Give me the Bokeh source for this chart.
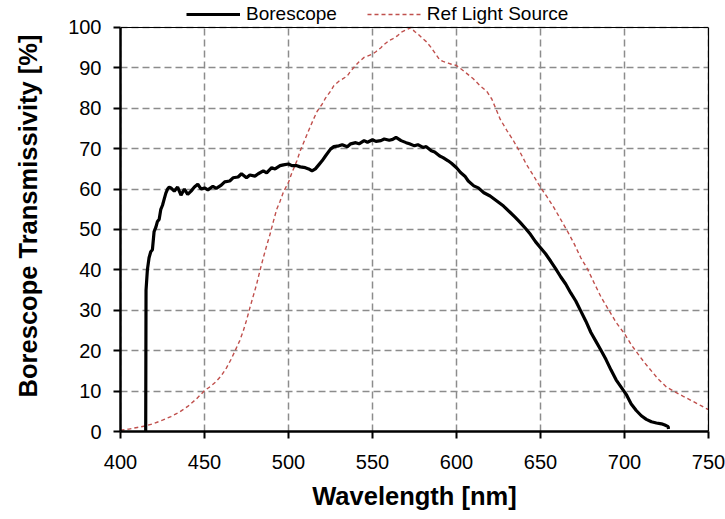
from bokeh.plotting import figure
from bokeh.models import Legend, LegendItem, FixedTicker, Range1d, Span, LinearAxis
from bokeh.embed import file_html
from bokeh.resources import INLINE

# Borescope transmissivity [%] vs wavelength [nm]
bore_wl = [415, 415.2, 416, 417, 418, 419, 420, 421, 422, 423, 424, 425, 426, 427, 428, 429,
           430, 432, 434, 436, 438, 440, 442, 444, 446, 448, 450, 452, 455, 457, 460, 462,
           465, 467, 470, 472, 475, 477, 480, 482, 485, 487, 490, 492, 495, 497, 500, 502,
           505, 507, 510, 512, 514, 516, 518, 520, 522, 525, 527, 530, 532, 535, 537, 540,
           542, 545, 547, 550, 552, 555, 557, 560, 562, 564, 567, 570, 572, 575, 577, 580,
           582, 585, 587, 590, 592, 595, 597, 600, 602.4, 605, 607, 610.3, 613, 616.3, 620,
           624.2, 628, 632, 635, 638, 641, 644, 647, 650, 653, 656, 659, 662, 665, 668, 671,
           674, 677, 680, 683, 686, 689, 692, 695, 698, 701, 704, 707, 710, 713, 716, 719,
           722, 724, 726, 726.2]
bore_t = [0, 35, 40, 43, 44.5, 45, 49.5, 50.5, 52, 52.5, 55, 56, 57.5, 59, 60, 60.5,
          60.3, 59.5, 60.5, 58.5, 60, 58.7, 59.5, 60.5, 61.2, 60, 60.3, 59.8, 60.7, 60.2, 61, 61.8,
          62, 62.8, 63, 63.8, 62.8, 63.5, 63.2, 63.8, 64.5, 64, 65.3, 65, 65.8, 66, 66.2, 65.8,
          65.8, 65.5, 65.3, 65, 64.5, 65, 66, 67, 68.2, 69.9, 70.5, 70.7, 71, 70.5, 71.2, 71.5,
          71.2, 72, 71.6, 72.2, 71.8, 72, 72.4, 72.1, 72.3, 72.8, 72, 71.5, 71.2, 70.7, 71, 70.3,
          70.5, 69.5, 69.2, 68.2, 67.8, 67, 66.4, 65.3, 64.1, 63.2, 62, 60.8, 60.3, 59.1, 58.3,
          57, 55.8, 54.2, 53, 51.7, 50.3, 48.8, 47, 45.5, 44, 42.2, 40.3, 38.3, 36.5, 34.3, 32.3,
          29.8, 27.3, 24.5, 22.3, 20.1, 17.8, 15.2, 12.8, 11.0, 9.2, 6.8, 5.2, 3.9, 3.0, 2.4, 2.1,
          1.9, 1.6, 1.2, 0.6]

# Reference light source (normalised) [%]
ref_wl = [400, 405, 410, 415, 420, 425, 430, 435, 440, 445, 450, 454, 457, 460, 463, 466,
          468, 471, 473, 475, 477, 479, 481, 483, 485, 487, 489, 491, 493, 495, 497, 500,
          502, 505, 507, 510, 512, 515, 517, 520, 522, 525, 527, 530, 532, 535, 537, 540,
          542, 545, 547, 550, 552, 555, 557, 560, 562, 565, 567, 570, 572, 573, 575, 577,
          580, 582, 585, 587, 590, 592, 595, 597, 600, 605, 610, 614, 618, 621, 626, 630,
          634, 638, 641.5, 646, 650, 654, 658, 662, 666, 670, 674, 678, 682, 686, 690, 695,
          700, 704, 708, 712, 716, 720, 725, 730, 735, 741, 745, 750]
ref_t = [0.3, 0.6, 1.0, 1.4, 2.0, 2.8, 3.7, 4.8, 6.2, 8.0, 10.1, 11.3, 12.4, 13.8, 15.7, 18,
         19.8, 22.5, 24.8, 27.5, 30.6, 33.5, 36.4, 39.8, 43, 46, 48.8, 52, 55, 57, 59.3, 61.7,
         64, 67, 69.5, 72.5, 74.5, 77.4, 79.2, 81, 82.5, 84.2, 85.6, 86.7, 87.2, 88, 89.2, 90.6,
         91.5, 92.6, 92.9, 93.4, 94, 95, 95.8, 96.8, 97.2, 98, 98.8, 99.4, 99.8, 100, 99, 98.4,
         97.2, 96.5, 95, 93.8, 92, 91.6, 91.2, 90.9, 90.6, 89, 87.3, 85.6, 84.2, 82.3, 77.3, 74.5,
         71.9, 69, 66.2, 63.2, 60.4, 58, 55.4, 52.5, 49.6, 46.5, 43, 40.2, 36.7, 33.3, 30.5, 27,
         24.2, 21.5, 19.2, 17, 15, 13, 11, 9.8, 8.7, 7.4, 6.5, 5.4]

series_names = ["Borescope", "Ref Light Source"]
x_ticks = [400, 450, 500, 550, 600, 650, 700, 750]
y_ticks = [0, 10, 20, 30, 40, 50, 60, 70, 80, 90, 100]
x_min, x_max = 400, 750
y_min, y_max = 0, 100

FONT = "Liberation Sans"
GRID = dict(line_color="#8c8c8c", line_width=1.5, line_dash="7 4")

# the frame reaches the top of the page so that the legend row (above the
# plotting box) is drawn inside it; the box itself ends at y = 100
p = figure(width=725, height=519, output_backend="svg", toolbar_location=None,
           x_range=Range1d(x_min, x_max), y_range=Range1d(y_min, 106.68),
           min_border_left=120, min_border_right=17, min_border_top=0, min_border_bottom=88)
p.background_fill_color = "white"
p.border_fill_color = "white"
p.outline_line_color = None

# vertical grid lines limited to the plotting box
p.segment(x0=x_ticks, y0=[y_min] * len(x_ticks), x1=x_ticks, y1=[y_max] * len(x_ticks), **GRID)
p.xgrid.visible = False
p.ygrid[0].ticker = FixedTicker(ticks=y_ticks)
p.ygrid[0].grid_line_color = GRID["line_color"]
p.ygrid[0].grid_line_width = GRID["line_width"]
p.ygrid[0].grid_line_dash = GRID["line_dash"]

ref_r = p.line(ref_wl, ref_t, line_color="#c0504d", line_width=1.4, line_dash="4 3")
bore_r = p.line(bore_wl, bore_t, line_color="black", line_width=3.2)

# box: top edge and right edge
p.add_layout(Span(location=y_max, dimension="width", line_color="black", line_width=1.2))
right_axis = LinearAxis(bounds=(y_min, y_max), ticker=FixedTicker(ticks=[]),
                        major_label_text_font_size="0px", axis_line_width=1.2,
                        major_tick_line_color=None, minor_tick_line_color=None)
p.add_layout(right_axis, "right")

for ax, ticks in ((p.xaxis[0], x_ticks), (p.yaxis[0], y_ticks)):
    ax.ticker = FixedTicker(ticks=ticks)
    ax.axis_line_width = 2.5
    ax.axis_line_color = "black"
    ax.major_tick_line_color = "black"
    ax.major_tick_line_width = 2
    ax.major_tick_out = 7
    ax.major_tick_in = 0
    ax.minor_tick_line_color = None
    ax.major_label_text_font = FONT
    ax.major_label_text_font_size = "20px"
    ax.major_label_text_color = "black"
    ax.axis_label_text_font = FONT
    ax.axis_label_text_font_size = "25.5px"
    ax.axis_label_text_font_style = "bold"
    ax.axis_label_text_color = "black"

p.yaxis[0].bounds = (y_min, y_max)
p.xaxis[0].axis_label = "Wavelength [nm]"
p.yaxis[0].axis_label = "Borescope Transmissivity [%]"
p.xaxis[0].major_label_standoff = 16
p.xaxis[0].axis_label_standoff = 10
p.yaxis[0].major_label_standoff = 12
p.yaxis[0].axis_label_standoff = 23

legend = Legend(items=[LegendItem(label=series_names[0], renderers=[bore_r]),
                       LegendItem(label=series_names[1], renderers=[ref_r])],
                orientation="horizontal", location=(66, 406),
                glyph_width=54, glyph_height=14, label_standoff=6, spacing=30,
                padding=0, margin=0, border_line_alpha=0, background_fill_alpha=0,
                label_text_font=FONT, label_text_font_size="19px", label_text_color="black")
p.add_layout(legend, "center")

open("out.html", "w").write(file_html(p, INLINE))
